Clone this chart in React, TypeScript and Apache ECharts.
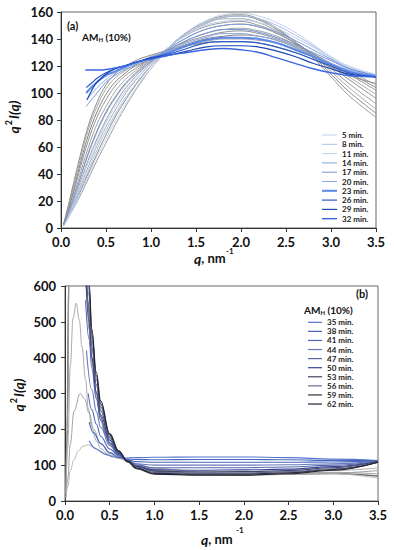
import React, { useEffect, useRef } from "react";
import * as echarts from "echarts";

const FONT = "Lato, 'DejaVu Sans', sans-serif";

// ---------- Panel (a) ----------
const qTop = [0.03, 0.1, 0.2, 0.3, 0.4, 0.5, 0.6, 0.7, 0.8, 0.9, 1.0, 1.2, 1.4, 1.6, 1.8, 2.0, 2.2, 2.4, 2.6, 2.8, 3.0, 3.2, 3.5];

const fitA0 = [2, 10, 22, 36, 50, 63, 76, 88, 99, 109, 118, 133, 145, 153, 157, 158, 155, 148, 138, 126, 112, 98, 82];
const fitA1 = [2, 11, 25, 40, 55, 69, 82, 93, 103, 112, 120, 134, 145, 152, 156, 157, 154, 147, 138, 127, 114, 101, 85];
const fitA2 = [2, 12, 28, 45, 61, 75, 87, 98, 107, 115, 122, 134, 144, 151, 155, 155, 152, 146, 138, 128, 116, 104, 88];
const fitA3 = [2, 13, 31, 50, 66, 80, 92, 102, 110, 117, 123, 134, 143, 149, 152, 153, 150, 145, 137, 128, 118, 107, 92];
const fitA4 = [2, 14, 34, 55, 72, 86, 97, 106, 113, 119, 124, 133, 141, 147, 150, 151, 149, 144, 137, 129, 120, 110, 96];
const fitA5 = [2, 15, 37, 59, 77, 90, 101, 109, 115, 120, 124, 132, 139, 144, 147, 148, 146, 142, 136, 129, 121, 112, 99];
const fitA6 = [3, 17, 41, 64, 82, 95, 105, 112, 117, 121, 125, 132, 138, 142, 145, 146, 144, 140, 135, 129, 122, 114, 102];
const fitA7 = [3, 18, 44, 68, 86, 99, 108, 114, 119, 122, 126, 131, 136, 140, 142, 143, 142, 139, 134, 128, 122, 115, 104];
const fitA8 = [3, 20, 47, 72, 90, 103, 111, 116, 120, 124, 127, 131, 135, 138, 140, 140, 139, 137, 133, 128, 122, 116, 106];
const fitA9 = [3, 22, 50, 75, 93, 106, 114, 119, 123, 126, 128, 132, 135, 137, 138, 138, 137, 134, 130, 125, 119, 113, 107];
const fitsA = [fitA0, fitA1, fitA2, fitA3, fitA4, fitA5, fitA6, fitA7, fitA8, fitA9];
const fitColorsA = ["#9a9a9a", "#8a8a8a", "#aaaaaa", "#999999", "#8c8c8c", "#a2a2a2", "#919191", "#808080", "#a6a6a6", "#8a8a8a"];

const dataA5 = [2, 10, 23, 38, 53, 66, 79, 90, 100, 110, 118, 133, 145, 153, 158, 159, 157, 152, 145, 136, 127, 120, 114];
const dataA8 = [2, 11, 26, 42, 58, 72, 84, 95, 104, 113, 120, 134, 145, 152, 156, 157, 155, 150, 143, 135, 126, 119, 113];
const dataA11 = [2, 12, 30, 48, 64, 78, 90, 100, 108, 115, 121, 134, 143, 150, 153, 154, 152, 148, 141, 134, 126, 119, 113];
const dataA14 = [2, 14, 34, 54, 71, 85, 96, 105, 112, 118, 123, 133, 141, 147, 150, 151, 149, 145, 139, 132, 125, 118, 113];
const dataA17 = [[0.28, 90], [0.35, 96], [0.4, 100], [0.5, 108], [0.6, 113], [0.7, 117], [0.8, 120], [0.9, 123], [1.0, 125], [1.2, 132], [1.4, 139], [1.6, 144], [1.8, 147], [2.0, 147], [2.2, 145], [2.4, 141], [2.6, 136], [2.8, 130], [3.0, 124], [3.2, 118], [3.5, 113]];
const dataA20 = [[0.28, 95], [0.35, 100], [0.4, 104], [0.5, 110], [0.6, 115], [0.7, 118], [0.8, 121], [0.9, 123], [1.0, 125], [1.2, 131], [1.4, 137], [1.6, 141], [1.8, 144], [2.0, 144], [2.2, 142], [2.4, 139], [2.6, 134], [2.8, 128], [3.0, 122], [3.2, 117], [3.5, 112]];
const dataA23 = [[0.28, 100], [0.35, 105], [0.4, 108], [0.5, 113], [0.6, 116], [0.7, 119], [0.8, 122], [0.9, 124], [1.0, 126], [1.2, 130], [1.4, 135], [1.6, 139], [1.8, 141], [2.0, 141], [2.2, 140], [2.4, 137], [2.6, 132], [2.8, 127], [3.0, 121], [3.2, 116], [3.5, 112]];
const dataA26 = [[0.28, 104], [0.35, 108], [0.4, 111], [0.5, 115], [0.6, 118], [0.7, 120], [0.8, 122], [0.9, 124], [1.0, 126], [1.2, 129], [1.4, 133], [1.6, 137], [1.8, 138], [2.0, 138], [2.2, 137], [2.4, 134], [2.6, 130], [2.8, 125], [3.0, 120], [3.2, 115], [3.5, 112]];
const dataA29 = [[0.29, 95], [0.35, 103], [0.4, 108], [0.5, 114], [0.6, 118], [0.7, 120], [0.8, 122], [0.9, 124], [1.0, 126], [1.2, 128], [1.4, 131], [1.6, 134], [1.8, 135], [2.0, 135], [2.2, 134], [2.4, 131], [2.6, 127], [2.8, 122], [3.0, 118], [3.2, 114], [3.5, 112]];
const dataA32 = [[0.27, 117], [0.35, 117], [0.45, 117], [0.55, 118], [0.7, 120], [0.8, 122], [0.9, 124], [1.0, 125], [1.2, 128], [1.4, 130], [1.6, 132], [1.8, 133], [2.0, 132], [2.2, 130], [2.4, 126], [2.6, 122], [2.8, 118], [3.0, 115], [3.2, 113], [3.5, 112]];

const labelsA = ["5 min.", "8 min.", "11 min.", "14 min.", "17 min.", "20 min.", "23 min.", "26 min.", "29 min.", "32 min."];
const colorsA = ["#c2d2ee", "#a9bfe8", "#bccdeb", "#7f9ee0", "#7092d8", "#8fa8e2", "#5a88e8", "#2c5bc8", "#1b45b0", "#3a66e0"];
const widthsA = [1, 1, 1, 1, 1, 1, 2, 1.2, 1.2, 1.4];

// ---------- Panel (b) ----------
const fitB0 = [[0.01, 30], [0.025, 200], [0.04, 600], [0.06, 1000], [0.12, 1300], [0.18, 1000], [0.22, 700], [0.25, 560], [0.3, 400], [0.35, 300], [0.4, 235], [0.45, 190], [0.5, 160], [0.6, 128], [0.7, 110], [0.8, 98], [1.0, 85], [1.5, 75], [2.0, 74], [2.5, 75], [3.0, 77], [3.5, 70]];
const fitB1 = [[0.01, 20], [0.03, 250], [0.045, 620], [0.07, 1000], [0.12, 1200], [0.18, 950], [0.23, 640], [0.27, 480], [0.3, 390], [0.35, 290], [0.4, 225], [0.45, 185], [0.5, 158], [0.6, 126], [0.7, 108], [0.8, 96], [1.0, 83], [1.5, 73], [2.0, 72], [2.5, 74], [3.0, 78], [3.5, 85]];
const fitB2 = [[0.01, 20], [0.03, 150], [0.06, 380], [0.09, 510], [0.125, 552], [0.16, 505], [0.19, 430], [0.23, 340], [0.26, 260], [0.3, 205], [0.35, 168], [0.4, 146], [0.5, 128], [0.6, 119], [0.7, 111], [0.8, 102], [1.0, 91], [1.5, 82], [2.0, 81], [2.5, 82], [3.0, 85], [3.5, 92]];
const fitB3 = [[0.01, 10], [0.03, 60], [0.06, 160], [0.1, 250], [0.17, 300], [0.22, 285], [0.27, 245], [0.32, 200], [0.4, 160], [0.5, 133], [0.6, 120], [0.7, 112], [0.8, 103], [1.0, 90], [1.5, 80], [2.0, 78], [2.5, 78], [3.0, 80], [3.5, 76]];
const fitB4 = [[0.01, 5], [0.03, 40], [0.06, 85], [0.1, 115], [0.15, 140], [0.2, 153], [0.26, 157], [0.32, 150], [0.4, 138], [0.5, 127], [0.6, 120], [0.7, 113], [0.8, 102], [1.0, 88], [1.5, 77], [2.0, 75], [2.5, 75], [3.0, 76], [3.5, 64]];
const fitsB = [fitB0, fitB1, fitB2, fitB3, fitB4];
const fitColorsB = ["#707070", "#9a9a9a", "#aaaaaa", "#a0a0a0", "#b8b8b8"];

const dataB35 = [[0.27, 168], [0.35, 145], [0.45, 130], [0.55, 123], [0.65, 120], [0.8, 121], [1.0, 122], [1.5, 123], [2.0, 123], [2.5, 121], [3.0, 117], [3.5, 113]];
const dataB38 = [[0.27, 220], [0.32, 190], [0.4, 160], [0.5, 135], [0.6, 122], [0.7, 117], [0.8, 116], [1.0, 115], [1.5, 116], [2.0, 116], [2.5, 115], [3.0, 113], [3.5, 113]];
const dataB41 = [[0.26, 300], [0.3, 255], [0.35, 215], [0.4, 180], [0.5, 145], [0.6, 126], [0.7, 115], [0.8, 110], [1.0, 108], [1.5, 108], [2.0, 108], [2.5, 108], [3.0, 109], [3.5, 112]];
const dataB44 = [[0.24, 420], [0.3, 310], [0.35, 250], [0.4, 205], [0.5, 155], [0.6, 128], [0.7, 114], [0.8, 104], [1.0, 100], [1.5, 100], [2.0, 100], [2.5, 101], [3.0, 104], [3.5, 112]];
const dataB47 = [[0.23, 560], [0.27, 450], [0.3, 370], [0.35, 285], [0.4, 225], [0.5, 163], [0.6, 130], [0.7, 113], [0.8, 100], [1.0, 93], [1.5, 93], [2.0, 93], [2.5, 95], [3.0, 100], [3.5, 111]];
const dataB50 = [[0.22, 700], [0.27, 500], [0.3, 400], [0.35, 305], [0.4, 240], [0.5, 170], [0.6, 133], [0.7, 112], [0.8, 97], [1.0, 87], [1.5, 86], [2.0, 87], [2.5, 89], [3.0, 96], [3.5, 110]];
const dataB53 = [[0.22, 760], [0.27, 540], [0.3, 430], [0.35, 325], [0.4, 252], [0.5, 176], [0.6, 135], [0.7, 112], [0.8, 95], [1.0, 83], [1.5, 81], [2.0, 82], [2.5, 85], [3.0, 93], [3.5, 110]];
const dataB56 = [[0.22, 800], [0.27, 570], [0.3, 450], [0.35, 340], [0.4, 262], [0.5, 180], [0.6, 137], [0.7, 111], [0.8, 93], [1.0, 80], [1.5, 78], [2.0, 78], [2.5, 82], [3.0, 90], [3.5, 109]];
const dataB59 = [[0.22, 830], [0.27, 590], [0.3, 465], [0.35, 350], [0.4, 270], [0.5, 184], [0.6, 138], [0.7, 111], [0.8, 92], [1.0, 77], [1.5, 75], [2.0, 75], [2.5, 79], [3.0, 88], [3.5, 108]];
const dataB62 = [[0.22, 860], [0.27, 610], [0.3, 480], [0.35, 360], [0.4, 278], [0.5, 188], [0.6, 140], [0.7, 110], [0.8, 90], [1.0, 75], [1.5, 72], [2.0, 72], [2.5, 76], [3.0, 86], [3.5, 108]];

const labelsB = ["35 min.", "38 min.", "41 min.", "44 min.", "47 min.", "50 min.", "53 min.", "56 min.", "59 min.", "62 min."];
const colorsB = ["#5575cc", "#4466bb", "#4a66c0", "#6677bb", "#5566aa", "#334499", "#444466", "#666e99", "#333344", "#222233"];

const zip = (xs: number[], ys: number[]) => xs.map((x, i) => [x, ys[i]]);

export default function App() {
  const ref = useRef<HTMLDivElement>(null);
  useEffect(() => {
    document.body.style.margin = "0";
    const chart = echarts.init(ref.current!, undefined, { renderer: "svg" });

    const dataA = [zip(qTop, dataA5), zip(qTop, dataA8), zip(qTop, dataA11), zip(qTop, dataA14), dataA17, dataA20, dataA23, dataA26, dataA29, dataA32];
    const dataB = [dataB35, dataB38, dataB41, dataB44, dataB47, dataB50, dataB53, dataB56, dataB59, dataB62];

    const lab = { fontFamily: FONT, fontWeight: "bold" as const, fontSize: 13, color: "#111" };
    const axLine = { show: true, onZero: false, lineStyle: { color: "#333", width: 1 } };
    const tick = { show: true, length: 4, lineStyle: { color: "#333", width: 1 } };

    const series: any[] = [];
    fitsA.forEach((f, i) => series.push({ type: "line", xAxisIndex: 0, yAxisIndex: 0, data: zip(qTop, f), smooth: 0.4, showSymbol: false, symbol: "none", lineStyle: { color: fitColorsA[i], width: 1 }, silent: true }));
    dataA.forEach((d, i) => series.push({ type: "line", name: labelsA[i], xAxisIndex: 0, yAxisIndex: 0, data: d, smooth: 0.4, showSymbol: false, symbol: "none", lineStyle: { color: colorsA[i], width: widthsA[i] }, silent: true }));
    fitsB.forEach((f, i) => series.push({ type: "line", xAxisIndex: 1, yAxisIndex: 1, data: f, smooth: 0.4, smoothMonotone: "x", showSymbol: false, symbol: "none", lineStyle: { color: fitColorsB[i], width: i === 0 ? 1.5 : 1 }, silent: true }));
    dataB.forEach((d, i) => series.push({ type: "line", name: labelsB[i], xAxisIndex: 1, yAxisIndex: 1, data: d, smooth: 0.4, smoothMonotone: "x", showSymbol: false, symbol: "none", lineStyle: { color: colorsB[i], width: 1.1 }, silent: true }));

    const graphic: any[] = [];
    // legends
    labelsA.forEach((t, i) => {
      const y = 135 + i * 9.3;
      graphic.push({ type: "line", shape: { x1: 322, y1: y, x2: 337, y2: y }, style: { stroke: colorsA[i], lineWidth: widthsA[i] } });
      graphic.push({ type: "text", x: 342, y, style: { text: t, fontFamily: FONT, fontWeight: "bold", fontSize: 8, fill: "#222", align: "left", verticalAlign: "middle" } });
    });
    labelsB.forEach((t, i) => {
      const y = 322.3 + i * 9.08;
      graphic.push({ type: "line", shape: { x1: 308, y1: y, x2: 322, y2: y }, style: { stroke: colorsB[i], lineWidth: 1.2 } });
      graphic.push({ type: "text", x: 327, y, style: { text: t, fontFamily: FONT, fontWeight: "bold", fontSize: 8, fill: "#222", align: "left", verticalAlign: "middle" } });
    });
    const richT = {
      m: { fontFamily: FONT, fontWeight: "bold", fontSize: 10, fill: "#111" },
      sub: { fontFamily: FONT, fontWeight: "bold", fontSize: 6, fill: "#111", padding: [5, 0, 0, 0] },
    };
    graphic.push({ type: "text", x: 67, y: 25, style: { text: "(a)", fontFamily: FONT, fontWeight: "bold", fontSize: 11, fill: "#111", verticalAlign: "middle" } });
    graphic.push({ type: "text", x: 82, y: 37, style: { text: "{m|AM}{sub|H}{m| (10%)}", rich: richT, verticalAlign: "middle" } });
    graphic.push({ type: "text", x: 356, y: 293, style: { text: "(b)", fontFamily: FONT, fontWeight: "bold", fontSize: 11, fill: "#111", verticalAlign: "middle" } });
    graphic.push({ type: "text", x: 304, y: 310, style: { text: "{m|AM}{sub|H}{m| (10%)}", rich: richT, verticalAlign: "middle" } });

    // axis titles
    const richAx = {
      i: { fontFamily: FONT, fontWeight: "bold", fontStyle: "italic", fontSize: 14, fill: "#111" },
      n: { fontFamily: FONT, fontWeight: "bold", fontSize: 13, fill: "#111" },
      s: { fontFamily: FONT, fontWeight: "bold", fontSize: 9, fill: "#111", padding: [0, 1, 10, 1] },
    };
    const xTitle = (x: number, y: number, sx: number, sy: number) => {
      graphic.push({ type: "text", x, y, style: { text: "{i|q}{n|, nm}", rich: richAx, verticalAlign: "middle" } });
      graphic.push({ type: "text", x: sx, y: sy, style: { text: "-1", fontFamily: FONT, fontWeight: "bold", fontSize: 8, fill: "#111", verticalAlign: "middle" } });
    };
    xTitle(194, 258, 226, 251);
    xTitle(201, 539, 236, 530);
    const yTitle = (x: number, y: number) => {
      graphic.push({ type: "text", x, y, rotation: Math.PI / 2, style: { text: "{i|q}{s|2}{i|I(q)}", rich: richAx, align: "center", verticalAlign: "middle" } });
    };
    yTitle(13, 117);
    yTitle(18, 395);

    chart.setOption({
      animation: false,
      backgroundColor: "#fff",
      grid: [
        { left: 61, top: 12, width: 315, height: 216, show: true, borderColor: "#666", borderWidth: 1, backgroundColor: "transparent" },
        { left: 65, top: 286, width: 313, height: 215, show: true, borderColor: "#666", borderWidth: 1, backgroundColor: "transparent" },
      ],
      xAxis: [0, 1].map((g) => ({
        type: "value", gridIndex: g, min: 0, max: 3.5, interval: 0.5,
        axisLine: axLine, axisTick: tick, splitLine: { show: false },
        axisLabel: { ...lab, margin: 7, formatter: (v: number) => v.toFixed(1) },
      })),
      yAxis: [
        { type: "value", gridIndex: 0, min: 0, max: 160, interval: 20, axisLine: axLine, axisTick: tick, splitLine: { show: false }, axisLabel: { ...lab, margin: 8 } },
        { type: "value", gridIndex: 1, min: 0, max: 600, interval: 100, axisLine: axLine, axisTick: tick, splitLine: { show: false }, axisLabel: { ...lab, margin: 9 } },
      ],
      series,
      graphic,
    });
    return () => chart.dispose();
  }, []);
  return <div ref={ref} style={{ width: 394, height: 550 }} />;
}
